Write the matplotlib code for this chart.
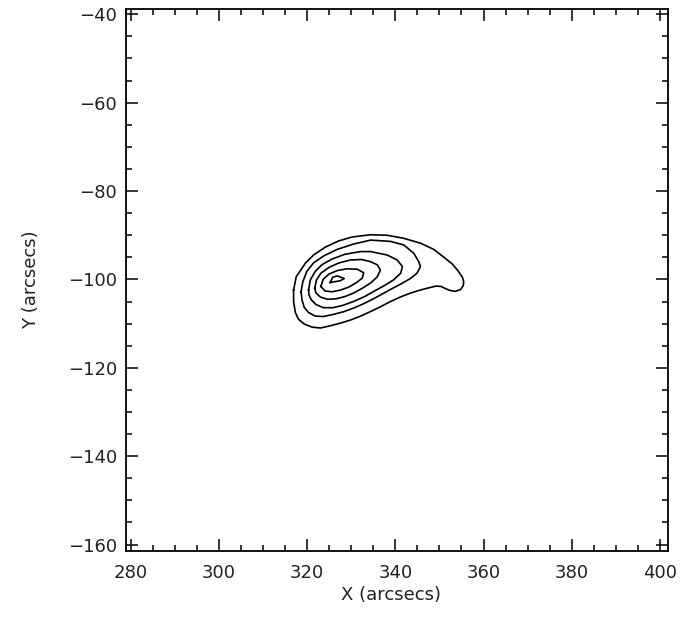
import matplotlib
matplotlib.use("Agg")
import matplotlib.pyplot as plt
from matplotlib.ticker import MultipleLocator

# Axis ranges and ticks (arcsecs)
x_range = [278.8, 401.8]
y_range = [-161.4, -38.8]
x_ticks = [280, 300, 320, 340, 360, 380, 400]
y_ticks = [-160, -140, -120, -100, -80, -60, -40]

# Traced contour levels (outer -> inner), X and Y in arcsecs
c1_x = [316.9, 317.5, 319.6, 321.4, 324.1, 327.1, 330.2, 334.3, 338.1, 341.9, 345.7, 348.7,
        350.9, 352.9, 354.1, 355.2, 355.5, 355.4, 354.8, 353.6, 352.4, 351.4, 350.4, 349.3,
        348.0, 345.7, 343.4, 341.1, 338.9, 336.6, 334.3, 332.1, 329.8, 327.5, 325.2, 323.0,
        321.1, 319.3, 318.0, 317.3, 316.9]
c1_y = [-102.4, -99.4, -96.3, -94.5, -92.7, -91.3, -90.4, -89.9, -90.0, -90.7, -91.8, -93.2,
        -94.9, -96.5, -97.9, -99.5, -100.5, -101.4, -102.3, -102.7, -102.5, -102.1, -101.6, -101.5,
        -101.8, -102.4, -103.1, -104.0, -105.0, -106.2, -107.3, -108.3, -109.2, -109.9, -110.5, -111.0,
        -110.8, -110.1, -109.0, -107.5, -105.0]

c2_x = [318.6, 319.0, 319.9, 321.4, 323.7, 326.8, 330.5, 334.4, 338.9, 341.9, 344.2, 345.3,
        345.7, 344.9, 343.4, 341.5, 339.4, 337.2, 335.0, 332.8, 330.5, 328.3, 326.0, 323.7,
        321.8, 320.3, 319.3, 318.8]
c2_y = [-102.8, -100.5, -98.2, -96.3, -94.7, -93.2, -92.0, -91.1, -91.4, -92.2, -94.1, -96.0,
        -97.1, -98.6, -99.8, -100.9, -102.0, -103.2, -104.4, -105.5, -106.5, -107.3, -107.9, -108.4,
        -108.3, -107.5, -106.3, -104.6]

c3_x = [320.3, 320.7, 321.8, 323.3, 325.6, 328.6, 332.1, 334.4, 338.2, 340.4, 341.6, 341.2,
        339.6, 337.5, 335.3, 333.0, 330.5, 328.0, 325.8, 323.7, 322.0, 320.9, 320.4]
c3_y = [-102.4, -100.1, -98.2, -96.7, -95.4, -94.3, -93.7, -93.7, -94.5, -95.6, -97.1, -98.6,
        -100.1, -101.4, -102.6, -103.9, -105.0, -105.9, -106.4, -106.4, -105.7, -104.6, -103.5]

c4_x = [321.7, 322.1, 323.1, 324.9, 327.1, 329.8, 332.4, 334.4, 335.9, 336.6, 335.9, 334.4,
        332.5, 330.5, 328.5, 326.5, 324.6, 323.0, 322.0]
c4_y = [-102.0, -100.1, -98.6, -97.3, -96.3, -95.6, -95.5, -96.0, -96.7, -97.9, -99.4, -100.8,
        -102.0, -103.1, -103.9, -104.4, -104.5, -104.0, -103.1]

c5_x = [323.1, 323.6, 324.9, 326.8, 329.0, 331.4, 332.8, 332.5, 331.2, 329.5, 327.6, 325.6, 324.0]
c5_y = [-101.6, -100.0, -98.8, -98.0, -97.6, -97.7, -98.5, -99.7, -100.7, -101.7, -102.4, -102.8, -102.6]

c6_x = [325.2, 325.8, 326.8, 328.4, 327.5]
c6_y = [-100.7, -99.5, -99.2, -99.8, -100.3]

contours = [(c1_x, c1_y), (c2_x, c2_y), (c3_x, c3_y), (c4_x, c4_y), (c5_x, c5_y), (c6_x, c6_y)]

plt.rcParams['font.family'] = ['DejaVu Sans']
fig = plt.figure(figsize=(6.87, 6.21), dpi=100)
ax = fig.add_axes([125.7 / 687, 1 - 550.7 / 621, 542.0 / 687, 541.7 / 621])

for cx, cy in contours:
    ax.plot(list(cx) + [cx[0]], list(cy) + [cy[0]], color='black', lw=1.2)

ax.set_xlim(x_range)
ax.set_ylim(y_range)
ax.set_xticks(x_ticks)
ax.set_yticks(y_ticks)
ax.set_xticklabels([str(v) for v in x_ticks])
ax.set_yticklabels(['\u2212' + str(abs(v)) for v in y_ticks])
ax.xaxis.set_minor_locator(MultipleLocator(5))
ax.yaxis.set_minor_locator(MultipleLocator(5))
ax.tick_params(which='both', direction='in', top=True, right=True, width=1.1, color='black')
ax.tick_params(which='major', length=8.6)
ax.tick_params(which='minor', length=4.3)
ax.tick_params(axis='x', which='major', pad=9.5, labelsize=13, labelcolor='#222222')
ax.tick_params(axis='y', which='major', pad=6.3, labelsize=13, labelcolor='#222222')
for s in ax.spines.values():
    s.set_linewidth(1.3)

ax.set_xlabel('X (arcsecs)', fontsize=13, color='#222222')
ax.set_ylabel('Y (arcsecs)', fontsize=13, color='#222222')
ax.xaxis.set_label_coords(0.49, -0.066)
ax.yaxis.set_label_coords(-0.158, 0.5)

fig.savefig('out.png', dpi=100)
